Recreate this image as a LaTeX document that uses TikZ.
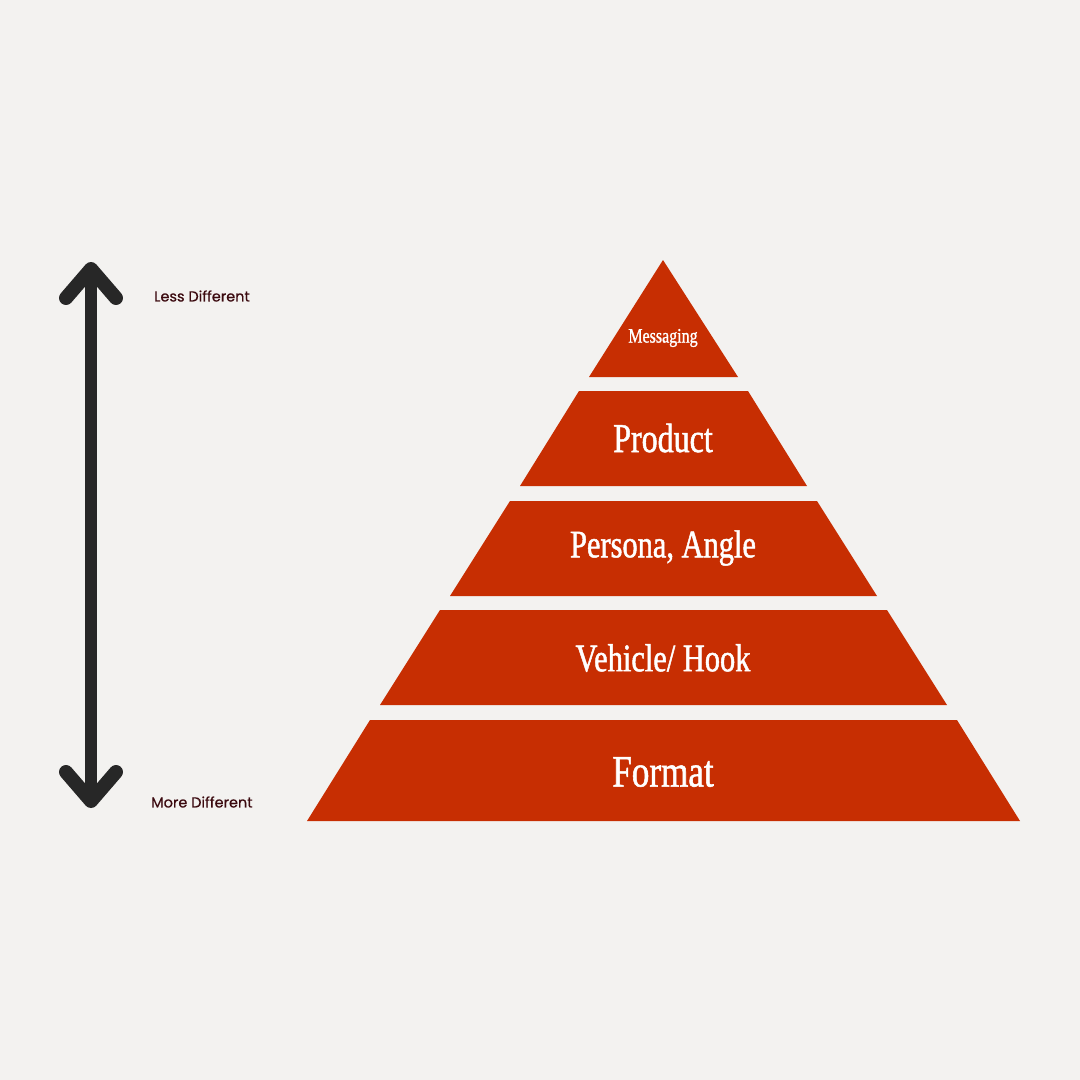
\documentclass[tikz,border=0pt]{standalone}
\usepackage{fontspec}
\setsansfont{Poppins}
\newfontfamily\condserif[FakeStretch=0.78,FakeBold=1.2]{Liberation Serif}
\newfontfamily\sidefont[FakeBold=0.5]{Poppins}
\definecolor{bg}{HTML}{F3F2F0}
\definecolor{pyr}{HTML}{C72E02}
\definecolor{lab}{HTML}{3B0A0F}
\definecolor{arr}{HTML}{272727}
\begin{document}
\begin{tikzpicture}[x=1pt,y=-1pt,
  layer/.style={fill=pyr,draw=none},
  ltext/.style={text=white,font=\condserif,inner sep=0pt},
  side/.style={text=lab,font=\sidefont\fontsize{14.5}{16}\selectfont,anchor=west,inner sep=0pt},
  arrowline/.style={draw=arr,line width=12pt,line cap=round,line join=round},
  headline/.style={draw=arr,line width=14pt,line cap=round,line join=round}]
\fill[bg] (0,0) rectangle (1080,1080);
\useasboundingbox (0,0) rectangle (1080,1080);
% pyramid layers
\fill[layer] (663,260) -- (738,377) -- (589,377) -- cycle;
\fill[layer] (579,391) -- (748,391) -- (807,486) -- (520,486) -- cycle;
\fill[layer] (510,501) -- (817,501) -- (877,596) -- (450,596) -- cycle;
\fill[layer] (440,610) -- (887,610) -- (947,705) -- (380,705) -- cycle;
\fill[layer] (370,720) -- (957,720) -- (1020,821) -- (307,821) -- cycle;
% labels
\node[ltext,font=\condserif\fontsize{20.5}{22}\selectfont] (m) at (663,338) {Messaging};
\node[ltext,font=\condserif\fontsize{41}{44}\selectfont] (p) at (663,438) {Product};
\node[ltext,font=\condserif\fontsize{39}{42}\selectfont] (pa) at (663,548) {Persona, Angle};
\node[ltext,font=\condserif\fontsize{39}{42}\selectfont] (v) at (663,658) {Vehicle/ Hook};
\node[ltext,font=\condserif\fontsize{45}{48}\selectfont] (f) at (663,772) {Format};
% arrow
\coordinate (top) at (91,269);
\coordinate (bot) at (91,801);
\draw[arrowline] (top) -- (bot);
\draw[headline] (66,298) -- (top) -- (116,298);
\draw[headline] (66,772) -- (bot) -- (116,772);
\node[side] (less) at (154,296) {Less Different};
\node[side] (more) at (151,802) {More Different};
\end{tikzpicture}
\end{document}
